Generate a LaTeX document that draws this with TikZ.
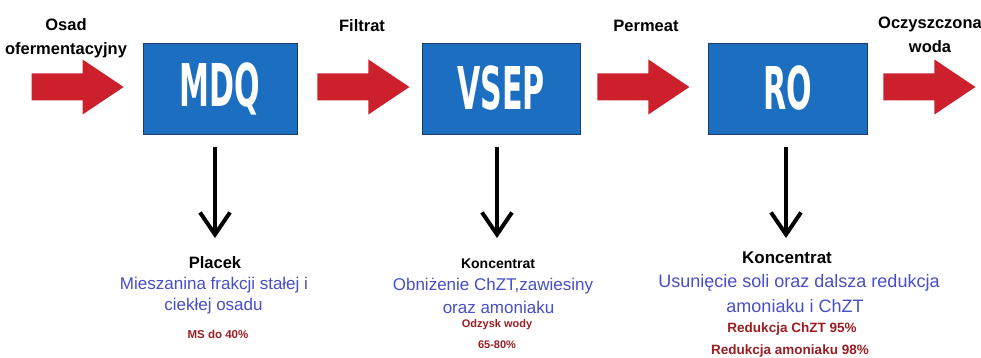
\documentclass[tikz,border=0pt]{standalone}
\usepackage{graphicx}
\usepackage{fontspec}
\setmainfont{Liberation Sans}
\newfontfamily\boxfont{DejaVu Sans}
\usetikzlibrary{arrows.meta}
\definecolor{boxblue}{RGB}{28,110,192}
\definecolor{boxedge}{RGB}{30,60,100}
\definecolor{arrred}{RGB}{205,32,45}
\definecolor{txtblue}{RGB}{72,78,200}
\definecolor{txtred}{RGB}{155,30,35}
\newcommand\boxlab[1]{\scalebox{0.51}[1]{#1}}
\tikzset{
  procbox/.style={fill=boxblue, draw=boxedge, line width=0.8pt, inner sep=0pt,
    minimum height=91pt, text=white, font=\boxfont\fontsize{59}{59}\selectfont\bfseries},
  toplab/.style={align=center, inner sep=0pt, font=\fontsize{16.5}{24}\selectfont\bfseries},
  headlab/.style={inner sep=0pt, font=\bfseries},
  bluelab/.style={inner sep=0pt, text=txtblue},
  redlab/.style={inner sep=0pt, text=txtred, font=\bfseries},
  downarr/.style={line width=4pt, -{Straight Barb[length=22pt,width=30pt]}},
  redarr/.pic={\fill[arrred] (0,-13.5) -- (51,-13.5) -- (51,-27.5) -- (92,0)
     -- (51,27.5) -- (51,13.5) -- (0,13.5) -- cycle;}
}
\begin{document}
\begin{tikzpicture}[x=1pt,y=-1pt]
\useasboundingbox[fill=white] (0,0) rectangle (981,358);
% process boxes
\node[procbox, minimum width=154pt] (mdq) at (220,88.5) {\boxlab{MDQ}};
\node[procbox, minimum width=158pt] (vsep) at (501,88.5) {\boxlab{VSEP}};
\node[procbox, minimum width=159pt] (ro) at (787.5,88.5) {\boxlab{RO}};
% red flow arrows
\pic at ([xshift=-111pt,yshift=1.5pt]mdq.west) {redarr};
\pic at ([xshift=20pt,yshift=1.5pt]mdq.east) {redarr};
\pic at ([xshift=17pt,yshift=1.5pt]vsep.east) {redarr};
\pic at ([xshift=16pt,yshift=1.5pt]ro.east) {redarr};
% top labels
\node[toplab] (lin) at (66,38) {Osad\\ofermentacyjny};
\node[toplab] (lfil) at (362,26) {Filtrat};
\node[toplab] (lper) at (646,26) {Permeat};
\node[toplab] (lout) at (930,35) {Oczyszczona\\woda};
% MDQ outputs
\node[headlab, font=\fontsize{16.5}{20}\selectfont\bfseries] (placek) at (215,263) {Placek};
\node[bluelab, font=\fontsize{17}{20}\selectfont] (mb1) at (214,285) {Mieszanina frakcji stałej i};
\node[bluelab, font=\fontsize{17}{20}\selectfont] (mb2) at (213.5,306) {ciekłej osadu};
\node[redlab, font=\fontsize{11.5}{14}\selectfont\bfseries] (mr1) at (218,334) {MS do 40\%};
% VSEP outputs
\node[headlab, font=\fontsize{14}{18}\selectfont\bfseries] (kon1) at (498,264) {Koncentrat};
\node[bluelab, font=\fontsize{17}{20}\selectfont] (vb1) at (493,286) {Obniżenie ChZT,zawiesiny};
\node[bluelab, font=\fontsize{17}{20}\selectfont] (vb2) at (498.5,307) {oraz amoniaku};
\node[redlab, font=\fontsize{11}{14}\selectfont\bfseries] (vr1) at (497,325) {Odzysk wody};
\node[redlab, font=\fontsize{11}{14}\selectfont\bfseries] (vr2) at (497,345) {65-80\%};
% RO outputs
\node[headlab, font=\fontsize{17}{20}\selectfont\bfseries] (kon2) at (787,258) {Koncentrat};
\node[bluelab, font=\fontsize{18}{20}\selectfont] (rb1) at (799,283) {Usunięcie soli oraz dalsza redukcja};
\node[bluelab, font=\fontsize{18}{20}\selectfont] (rb2) at (795,306) {amoniaku i ChZT};
\node[redlab, font=\fontsize{13.5}{16}\selectfont\bfseries] (rr1) at (792,329) {Redukcja ChZT 95\%};
\node[redlab, font=\fontsize{13.5}{16}\selectfont\bfseries] (rr2) at (790,351) {Redukcja amoniaku 98\%};
% down arrows
\coordinate (e1) at (215,238);
\coordinate (e2) at (497,238);
\coordinate (e3) at (786,238);
\draw[downarr, shorten <=13pt] (e1 |- mdq.south) -- (e1);
\draw[downarr, shorten <=13pt] (e2 |- vsep.south) -- (e2);
\draw[downarr, shorten <=13pt] (e3 |- ro.south) -- (e3);
\end{tikzpicture}
\end{document}
